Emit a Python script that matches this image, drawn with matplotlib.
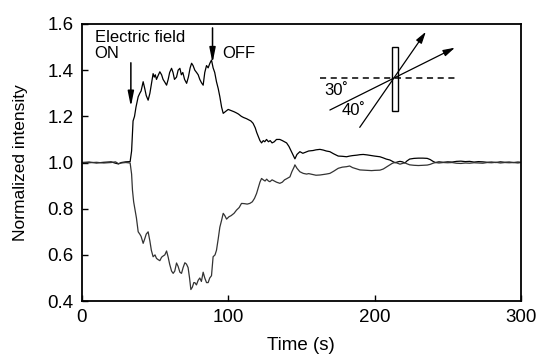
import matplotlib
matplotlib.use("Agg")
import matplotlib.pyplot as plt
from matplotlib.patches import Rectangle

plt.rcParams['font.family'] = ['Liberation Sans', 'DejaVu Sans']

# Upper trace (intensity increasing when field ON)
t_up = [0, 5, 10, 15, 20, 23, 25, 27, 30, 33, 34, 35, 36, 37, 38.5, 39.6, 40.5, 41.9, 43, 44,
        45.3, 46.5, 47.5, 48.7, 49.5, 50.2, 51, 52, 53.3, 54.5, 55.5, 56.5, 57.9, 59, 60, 61.3,
        62.3, 63.3, 64.7, 65.8, 67, 68, 69, 70.2, 71.6, 72.8, 74, 75, 76, 77.2, 78.4, 79.5, 80.6,
        81.8, 82.9, 84, 85.2, 86.3, 87.5, 88.6, 89.7, 90.8, 92, 93.2, 94.3, 95.5, 96.6, 98, 100,
        102, 104, 105.6, 107, 109, 110.5, 112.5, 114, 115.5, 117, 118.5, 119.5, 120.5, 121.7,
        122.8, 124, 125, 126.2, 127.5, 128.7, 130, 131.5, 133, 135.3, 137, 138.5, 139.9, 141.5,
        143, 144.5, 145.6, 147, 149, 151, 153, 155, 158, 160, 162.7, 165, 167, 169.5, 172, 175.2,
        178, 180.9, 183, 185, 188, 190, 192.3, 195, 198, 200, 203.7, 206, 208, 210.5, 212, 214,
        216, 217.4, 219, 220.8, 222, 224, 227, 230, 233, 236, 238, 240, 241.6, 244, 247, 250,
        253, 256, 259, 262, 265, 268, 271, 274, 277, 280, 283, 286, 289, 292, 295, 298, 300]
v_up = [1.0, 1.002, 0.998, 1.001, 1.003, 0.997, 0.994, 1.0, 1.003, 1.004, 1.05, 1.18, 1.20, 1.24,
        1.285, 1.30, 1.31, 1.35, 1.32, 1.29, 1.27, 1.30, 1.34, 1.385, 1.37, 1.38, 1.36, 1.375,
        1.393, 1.38, 1.36, 1.35, 1.335, 1.36, 1.39, 1.408, 1.39, 1.36, 1.37, 1.40, 1.408, 1.38,
        1.39, 1.36, 1.343, 1.37, 1.41, 1.43, 1.42, 1.40, 1.39, 1.38, 1.36, 1.345, 1.335, 1.39,
        1.42, 1.41, 1.43, 1.444, 1.41, 1.39, 1.35, 1.32, 1.285, 1.24, 1.213, 1.22, 1.23, 1.225,
        1.22, 1.215, 1.21, 1.20, 1.195, 1.19, 1.185, 1.18, 1.17, 1.15, 1.13, 1.114, 1.095, 1.085,
        1.095, 1.09, 1.10, 1.09, 1.095, 1.085, 1.09, 1.10, 1.10, 1.095, 1.09, 1.085, 1.07, 1.05,
        1.03, 1.016, 1.035, 1.047, 1.04, 1.045, 1.05, 1.052, 1.055, 1.057, 1.054, 1.05, 1.047,
        1.038, 1.028, 1.027, 1.025, 1.028, 1.03, 1.032, 1.034, 1.035, 1.033, 1.03, 1.028, 1.025,
        1.02, 1.015, 1.011, 1.006, 0.999, 1.003, 1.005, 1.003, 0.998, 1.006, 1.015, 1.018, 1.019,
        1.019, 1.018, 1.013, 1.005, 1.0, 1.003, 1.001, 1.003, 1.002, 1.005, 1.006, 1.004, 1.005,
        1.002, 1.004, 1.003, 1.001, 1.002, 1.0, 1.003, 1.001, 1.002, 1.0, 1.002, 1.001]

# Lower trace (intensity decreasing when field ON)
t_lo = [0, 5, 10, 15, 20, 23, 25, 27, 30, 33, 34, 34.6, 35.4, 36.2, 37.3, 38.5, 39.6, 40.5, 41.9,
        43, 44, 45.3, 46.5, 47.5, 48.7, 50, 51, 52, 53.3, 54.5, 55.5, 56.7, 57.9, 59, 60, 61.3,
        62.4, 63.5, 64.7, 65.8, 67, 68.1, 69.2, 70.4, 71.5, 72.6, 73.6, 74.5, 75.5, 76.5, 77.2,
        78.3, 79.5, 80.6, 81.7, 82.9, 84, 85.2, 86.3, 87.4, 88.6, 89.7, 91, 92, 93.2, 94.3, 95.5,
        96.6, 97.7, 98.9, 100.5, 102, 104, 105.7, 107.5, 109.1, 111, 113, 114.8, 116.5, 118,
        119.4, 120.5, 121.7, 122.8, 124, 125.2, 126.3, 127.5, 128.5, 130, 131.5, 133, 135.3, 137,
        138.5, 140, 142.2, 143.5, 145, 145.6, 147, 149, 151.3, 153.6, 155, 158, 160, 162.7, 165,
        167, 169.5, 172, 175.2, 178, 180.9, 183, 185, 188, 190, 192.3, 195, 198, 200, 203.7, 206,
        208, 210.5, 212, 214, 216, 217.4, 219, 220.8, 222, 224, 227, 230, 233, 236, 238, 240,
        241.6, 244, 247, 250, 253, 256, 259, 262, 265, 268, 271, 274, 277, 280, 283, 286, 289,
        292, 295, 298, 300]
v_lo = [1.0, 0.999, 1.001, 0.998, 1.0, 1.003, 0.995, 0.998, 1.0, 0.998, 0.95, 0.88, 0.83, 0.80,
        0.76, 0.70, 0.69, 0.68, 0.65, 0.67, 0.69, 0.70, 0.66, 0.62, 0.592, 0.60, 0.585, 0.58,
        0.575, 0.59, 0.595, 0.60, 0.617, 0.59, 0.56, 0.53, 0.52, 0.53, 0.565, 0.55, 0.525, 0.52,
        0.545, 0.566, 0.56, 0.545, 0.50, 0.45, 0.46, 0.48, 0.48, 0.47, 0.49, 0.50, 0.485, 0.525,
        0.50, 0.48, 0.48, 0.50, 0.51, 0.592, 0.60, 0.62, 0.67, 0.72, 0.75, 0.78, 0.77, 0.755,
        0.765, 0.77, 0.78, 0.794, 0.805, 0.823, 0.822, 0.82, 0.823, 0.83, 0.845, 0.866, 0.89,
        0.915, 0.931, 0.925, 0.92, 0.928, 0.92, 0.917, 0.925, 0.92, 0.915, 0.91, 0.915, 0.925,
        0.93, 0.938, 0.96, 0.98, 0.99, 0.975, 0.96, 0.953, 0.95, 0.952, 0.948, 0.945, 0.946,
        0.948, 0.95, 0.953, 0.962, 0.975, 0.98, 0.982, 0.985, 0.978, 0.972, 0.968, 0.967, 0.966,
        0.965, 0.966, 0.967, 0.972, 0.98, 0.99, 0.996, 1.001, 0.996, 0.993, 0.996, 0.999, 0.995,
        0.99, 0.988, 0.987, 0.988, 0.989, 0.992, 0.997, 1.0, 0.998, 1.0, 0.999, 1.0, 0.997,
        0.996, 0.998, 0.997, 0.999, 0.998, 0.997, 1.0, 0.999, 1.001, 0.998, 1.0, 0.999, 1.0,
        0.998, 1.0]

x_ticks = [0, 100, 200, 300]
y_ticks = [0.4, 0.6, 0.8, 1.0, 1.2, 1.4, 1.6]

fig = plt.figure(figsize=(5.42, 3.58), dpi=100)
ax = fig.add_axes([0.151, 0.159, 0.810, 0.774])

ax.plot(t_up, v_up, color='black', lw=0.9)
ax.plot(t_lo, v_lo, color='#333333', lw=0.9)

ax.set_xlim(0, 300)
ax.set_ylim(0.4, 1.6)
ax.set_xticks(x_ticks)
ax.set_yticks(y_ticks)
ax.set_yticklabels([f"{v:.1f}" for v in y_ticks])
ax.tick_params(direction='in', length=4, width=1, labelsize=13.5, pad=6)
for s in ax.spines.values():
    s.set_linewidth(1.3)
ax.set_xlabel("Time (s)", fontsize=13.5)
ax.set_ylabel("Normalized intensity", fontsize=12.5)
ax.xaxis.set_label_coords(0.5, -0.128)
ax.yaxis.set_label_coords(-0.123, 0.5)

# Annotations
ax.text(0.029, 0.978, "Electric field\nON", transform=ax.transAxes, fontsize=12,
        va='top', ha='left', linespacing=1.1)
ax.text(0.320, 0.922, "OFF", transform=ax.transAxes, fontsize=12, va='top', ha='left')
ax.annotate("", xy=(33.5, 1.242), xytext=(33.5, 1.432),
            arrowprops=dict(arrowstyle='-|>,head_length=0.9,head_width=0.18', lw=1.1,
                            color='black', shrinkA=0, shrinkB=0))
ax.annotate("", xy=(89.3, 1.431), xytext=(89.3, 1.583),
            arrowprops=dict(arrowstyle='-|>,head_length=0.9,head_width=0.18', lw=1.1,
                            color='black', shrinkA=0, shrinkB=0))

# Inset schematic (axes-fraction coordinates)
T = ax.transAxes
ax.plot([0.542, 0.850], [0.804, 0.804], transform=T, color='black', lw=1.1,
        linestyle=(0, (4, 3)))
ax.add_patch(Rectangle((0.7055, 0.687), 0.0151, 0.229, transform=T, fill=False,
                       edgecolor='black', lw=1.0))
ax.annotate("", xy=(0.8497, 0.9144), xytext=(0.565, 0.6895), xycoords=T, textcoords=T,
            arrowprops=dict(arrowstyle='-|>,head_length=0.7,head_width=0.2', lw=0.9,
                            color='black', shrinkA=0, shrinkB=0))
ax.annotate("", xy=(0.7836, 0.9718), xytext=(0.633, 0.627), xycoords=T, textcoords=T,
            arrowprops=dict(arrowstyle='-|>,head_length=0.7,head_width=0.2', lw=0.9,
                            color='black', shrinkA=0, shrinkB=0))
ax.text(0.553, 0.760, "30˚", transform=T, fontsize=12, va='center', ha='left')
ax.text(0.592, 0.688, "40˚", transform=T, fontsize=12, va='center', ha='left')

fig.savefig("out.png", dpi=100)
